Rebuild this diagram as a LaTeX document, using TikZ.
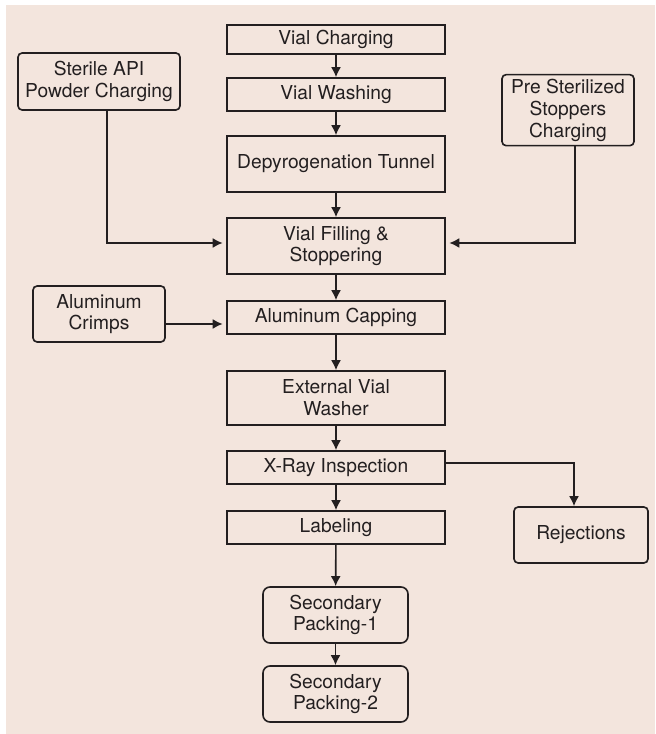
\documentclass[tikz,border=0pt]{standalone}
\usepackage{fontspec}
\setmainfont{TeX Gyre Heros}
\usetikzlibrary{arrows.meta, positioning, calc}
\definecolor{fondo}{HTML}{F3E5DD}
\definecolor{tinta}{HTML}{231F20}
\tikzset{
  every picture/.style={font=\fontsize{16.4}{18.6}\selectfont, >=Latex},
  paso/.style={draw=tinta, text=tinta, line width=1.4pt, minimum width=6.54cm, align=center, inner sep=0pt},
  entrada/.style={paso, rounded corners=3.5pt},
  empaque/.style={paso, rounded corners=6pt, minimum width=4.35cm, minimum height=1.68cm},
  flecha/.style={-{Latex[length=3mm, width=3mm]}, line width=1.4pt, tinta},
}

\begin{document}
\begin{tikzpicture}
  \useasboundingbox (0,0) rectangle (19.65,22.02);
  \fill[fondo] (0.18,0) rectangle (19.65,21.87);

  % linea principal
  \node[paso, minimum height=0.87cm] (vc) at (10.08,20.835) {Vial Charging};
  \node[paso, minimum height=0.99cm] (vw) at (10.08,19.185) {Vial Washing};
  \node[paso, minimum height=1.68cm] (dt) at (10.08,17.1) {Depyrogenation Tunnel};
  \node[paso, minimum height=1.68cm] (vf) at (10.08,14.64) {Vial Filling \&\\Stoppering};
  \node[paso, minimum height=0.99cm] (ac) at (10.08,12.495) {Aluminum Capping};
  \node[paso, minimum height=1.62cm] (ev) at (10.08,10.08) {External Vial\\Washer};
  \node[paso, minimum height=0.99cm] (xr) at (10.08,7.995) {X-Ray Inspection};
  \node[paso, minimum height=0.99cm] (lb) at (10.08,6.195) {Labeling};
  \node[empaque] (sp1) at (10.065,3.57) {Secondary\\Packing-1};
  \node[empaque] (sp2) at (10.065,1.2) {Secondary\\Packing-2};

  % entradas y salidas
  \node[entrada, minimum width=4.86cm, minimum height=1.71cm] (api) at (2.97,19.575) {Sterile API\\Powder Charging};
  \node[entrada, minimum width=3.96cm, minimum height=2.13cm] (pss) at (17.04,18.715) {Pre Sterilized\\Stoppers\\Charging};
  \node[entrada, minimum width=3.96cm, minimum height=1.68cm] (cr) at (2.97,12.6) {Aluminum\\Crimps};
  \node[entrada, minimum width=4.02cm, minimum height=1.68cm] (rj) at (17.43,5.97) {Rejections};

  \draw[flecha] (vc) -- (vw);
  \draw[flecha] (vw) -- (dt);
  \draw[flecha] (dt) -- (vf);
  \draw[flecha] (vf) -- (ac);
  \draw[flecha] (ac) -- (ev);
  \draw[flecha] (ev) -- (xr);
  \draw[flecha] (xr) -- (lb);
  \draw[flecha] (lb) -- (sp1);
  \draw[flecha] (sp1) -- (sp2);

  \draw[flecha, shorten >=3pt] ([xshift=0.24cm]api.south) |- ([yshift=0.09cm]vf.west);
  \draw[flecha, shorten >=3pt] ([xshift=0.21cm]pss.south) |- ([yshift=0.09cm]vf.east);
  \draw[flecha, shorten >=3pt] ([yshift=-0.3cm]cr.east) -- ([yshift=-0.3cm]cr.east -| ac.west);
  \draw[flecha] ([yshift=0.13cm]xr.east) -| ([xshift=-0.21cm]rj.north);
\end{tikzpicture}
\end{document}
